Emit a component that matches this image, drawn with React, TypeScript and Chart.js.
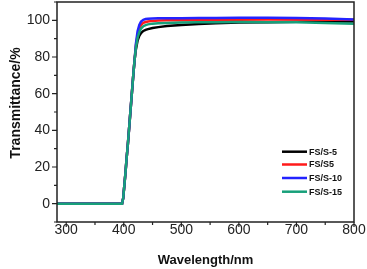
import React, { useEffect, useRef } from "react";
import { Chart, registerables } from "chart.js";

Chart.register(...registerables);

const wavelengths = [284, 380, 394, 397, 399, 401, 403, 405, 407, 409, 411, 413, 415, 417, 419, 421, 424, 427, 430, 434, 438, 442, 450, 460, 475, 500, 530, 560, 600, 650, 700, 750, 800];
const rise = [0, 0, 0, 0, 3, 10, 17, 25, 32, 40, 48, 56, 64, 72, 79];
const fss5 = [...rise, 84, 89, 91.5, 93, 94.2, 94.8, 95.2, 95.8, 96.3, 96.9, 97.5, 98, 98.4, 98.8, 99, 99.2, 99.3, 99.3];
const fsS5 = [...rise, 86, 92, 95.5, 97.5, 98.6, 99.1, 99.4, 99.7, 99.9, 100, 100.1, 100.2, 100.3, 100.3, 100.4, 100.4, 100.3, 100.3];
const fss10 = [...rise, 87, 94, 97.5, 99.3, 100.3, 100.7, 100.9, 101, 101.1, 101.2, 101.2, 101.3, 101.3, 101.4, 101.4, 101.3, 101, 100.5];
const fss15 = [...rise, 85, 90.5, 93.5, 95.5, 96.8, 97.4, 97.8, 98.2, 98.4, 98.6, 98.8, 98.9, 99, 99.1, 99, 98.9, 98.6, 98.2];

const seriesNames = ["FS/S-5", "FS/S5", "FS/S-10", "FS/S-15"];
const seriesColors = ["#000000", "#ff1a1a", "#2323ff", "#17a07a"];
const seriesValues = [fss5, fsS5, fss10, fss15];

const xMajorTicks = [300, 400, 500, 600, 700, 800];
const xMinorTicks = [350, 450, 550, 650, 750];
const yMajorTicks = [0, 20, 40, 60, 80, 100];
const yMinorTicks = [-10, 10, 30, 50, 70, 90, 110];

const FONT = 'Arial, "Liberation Sans", sans-serif';
const AXIS = "#222222";

const framePlugin = {
  id: "frame",
  afterDraw(chart: any) {
    const { ctx, chartArea: a, scales } = chart;
    const xs = scales.x;
    const ys = scales.y;
    ctx.save();
    ctx.strokeStyle = AXIS;
    ctx.lineWidth = 1.5;
    ctx.strokeRect(a.left, a.top, a.right - a.left, a.bottom - a.top);
    ctx.lineWidth = 1.2;
    ctx.beginPath();
    xMajorTicks.forEach((v) => {
      const p = xs.getPixelForValue(v);
      ctx.moveTo(p, a.bottom);
      ctx.lineTo(p, a.bottom + 5);
    });
    xMinorTicks.forEach((v) => {
      const p = xs.getPixelForValue(v);
      ctx.moveTo(p, a.bottom);
      ctx.lineTo(p, a.bottom + 3);
    });
    yMajorTicks.forEach((v) => {
      const p = ys.getPixelForValue(v);
      ctx.moveTo(a.left, p);
      ctx.lineTo(a.left - 5, p);
    });
    yMinorTicks.forEach((v) => {
      const p = ys.getPixelForValue(v);
      ctx.moveTo(a.left, p);
      ctx.lineTo(a.left - 3, p);
    });
    ctx.stroke();

    // axis titles
    ctx.fillStyle = "#111111";
    ctx.font = `bold 13px ${FONT}`;
    ctx.textAlign = "center";
    ctx.textBaseline = "middle";
    ctx.fillText("Wavelength/nm", (a.left + a.right) / 2, 260);
    ctx.save();
    ctx.translate(16, 103);
    ctx.rotate(-Math.PI / 2);
    ctx.font = `bold 14px ${FONT}`;
    ctx.fillText("Transmittance/%", 0, 0);
    ctx.restore();

    // legend
    const lx = 282;
    const rows = [151.7, 164.5, 178, 191.7];
    seriesNames.forEach((n, i) => {
      ctx.strokeStyle = seriesColors[i];
      ctx.lineWidth = 2.5;
      ctx.beginPath();
      ctx.moveTo(lx, rows[i]);
      ctx.lineTo(lx + 25, rows[i]);
      ctx.stroke();
      ctx.fillStyle = "#111111";
      ctx.font = `bold 9px ${FONT}`;
      ctx.textAlign = "left";
      ctx.textBaseline = "middle";
      ctx.fillText(n, lx + 27, rows[i] + 0.5);
    });
    ctx.restore();
  },
};

export default function App() {
  const ref = useRef<HTMLCanvasElement>(null);
  useEffect(() => {
    if (!ref.current) return;
    const chart = new Chart(ref.current, {
      type: "line",
      data: {
        datasets: seriesNames.map((n, i) => ({
          label: n,
          data: wavelengths.map((w, j) => ({ x: w, y: seriesValues[i][j] })),
          borderColor: seriesColors[i],
          backgroundColor: seriesColors[i],
          borderWidth: 2.5,
          pointRadius: 0,
          tension: 0,
          order: 3 - i,
        })),
      },
      options: {
        animation: false,
        responsive: false,
        layout: { padding: { top: 2, right: 13, left: 0, bottom: 0 } },
        plugins: { legend: { display: false }, tooltip: { enabled: false } },
        scales: {
          x: {
            type: "linear",
            min: 284,
            max: 800,
            afterBuildTicks: (s: any) => {
              s.ticks = xMajorTicks.map((v) => ({ value: v }));
            },
            afterFit: (s: any) => {
              s.height = 47;
              s.paddingLeft = 0;
              s.paddingRight = 0;
            },
            grid: { display: false, drawTicks: false },
            border: { display: false },
            ticks: { padding: 0, color: AXIS, font: { family: FONT, size: 14 }, maxRotation: 0 },
          },
          y: {
            type: "linear",
            min: -10,
            max: 110,
            afterBuildTicks: (s: any) => {
              s.ticks = yMajorTicks.map((v) => ({ value: v }));
            },
            afterFit: (s: any) => {
              s.width = 57;
              s.paddingTop = 0;
              s.paddingBottom = 0;
            },
            grid: { display: false, drawTicks: false },
            border: { display: false },
            ticks: { padding: 7, color: AXIS, font: { family: FONT, size: 14 } },
          },
        },
      },
      plugins: [framePlugin],
    });
    return () => chart.destroy();
  }, []);
  return (
    <div style={{ position: "fixed", left: 0, top: 0, width: 367, height: 269, background: "#fff" }}>
      <canvas ref={ref} width={367} height={269} style={{ width: 367, height: 269 }} />
    </div>
  );
}
